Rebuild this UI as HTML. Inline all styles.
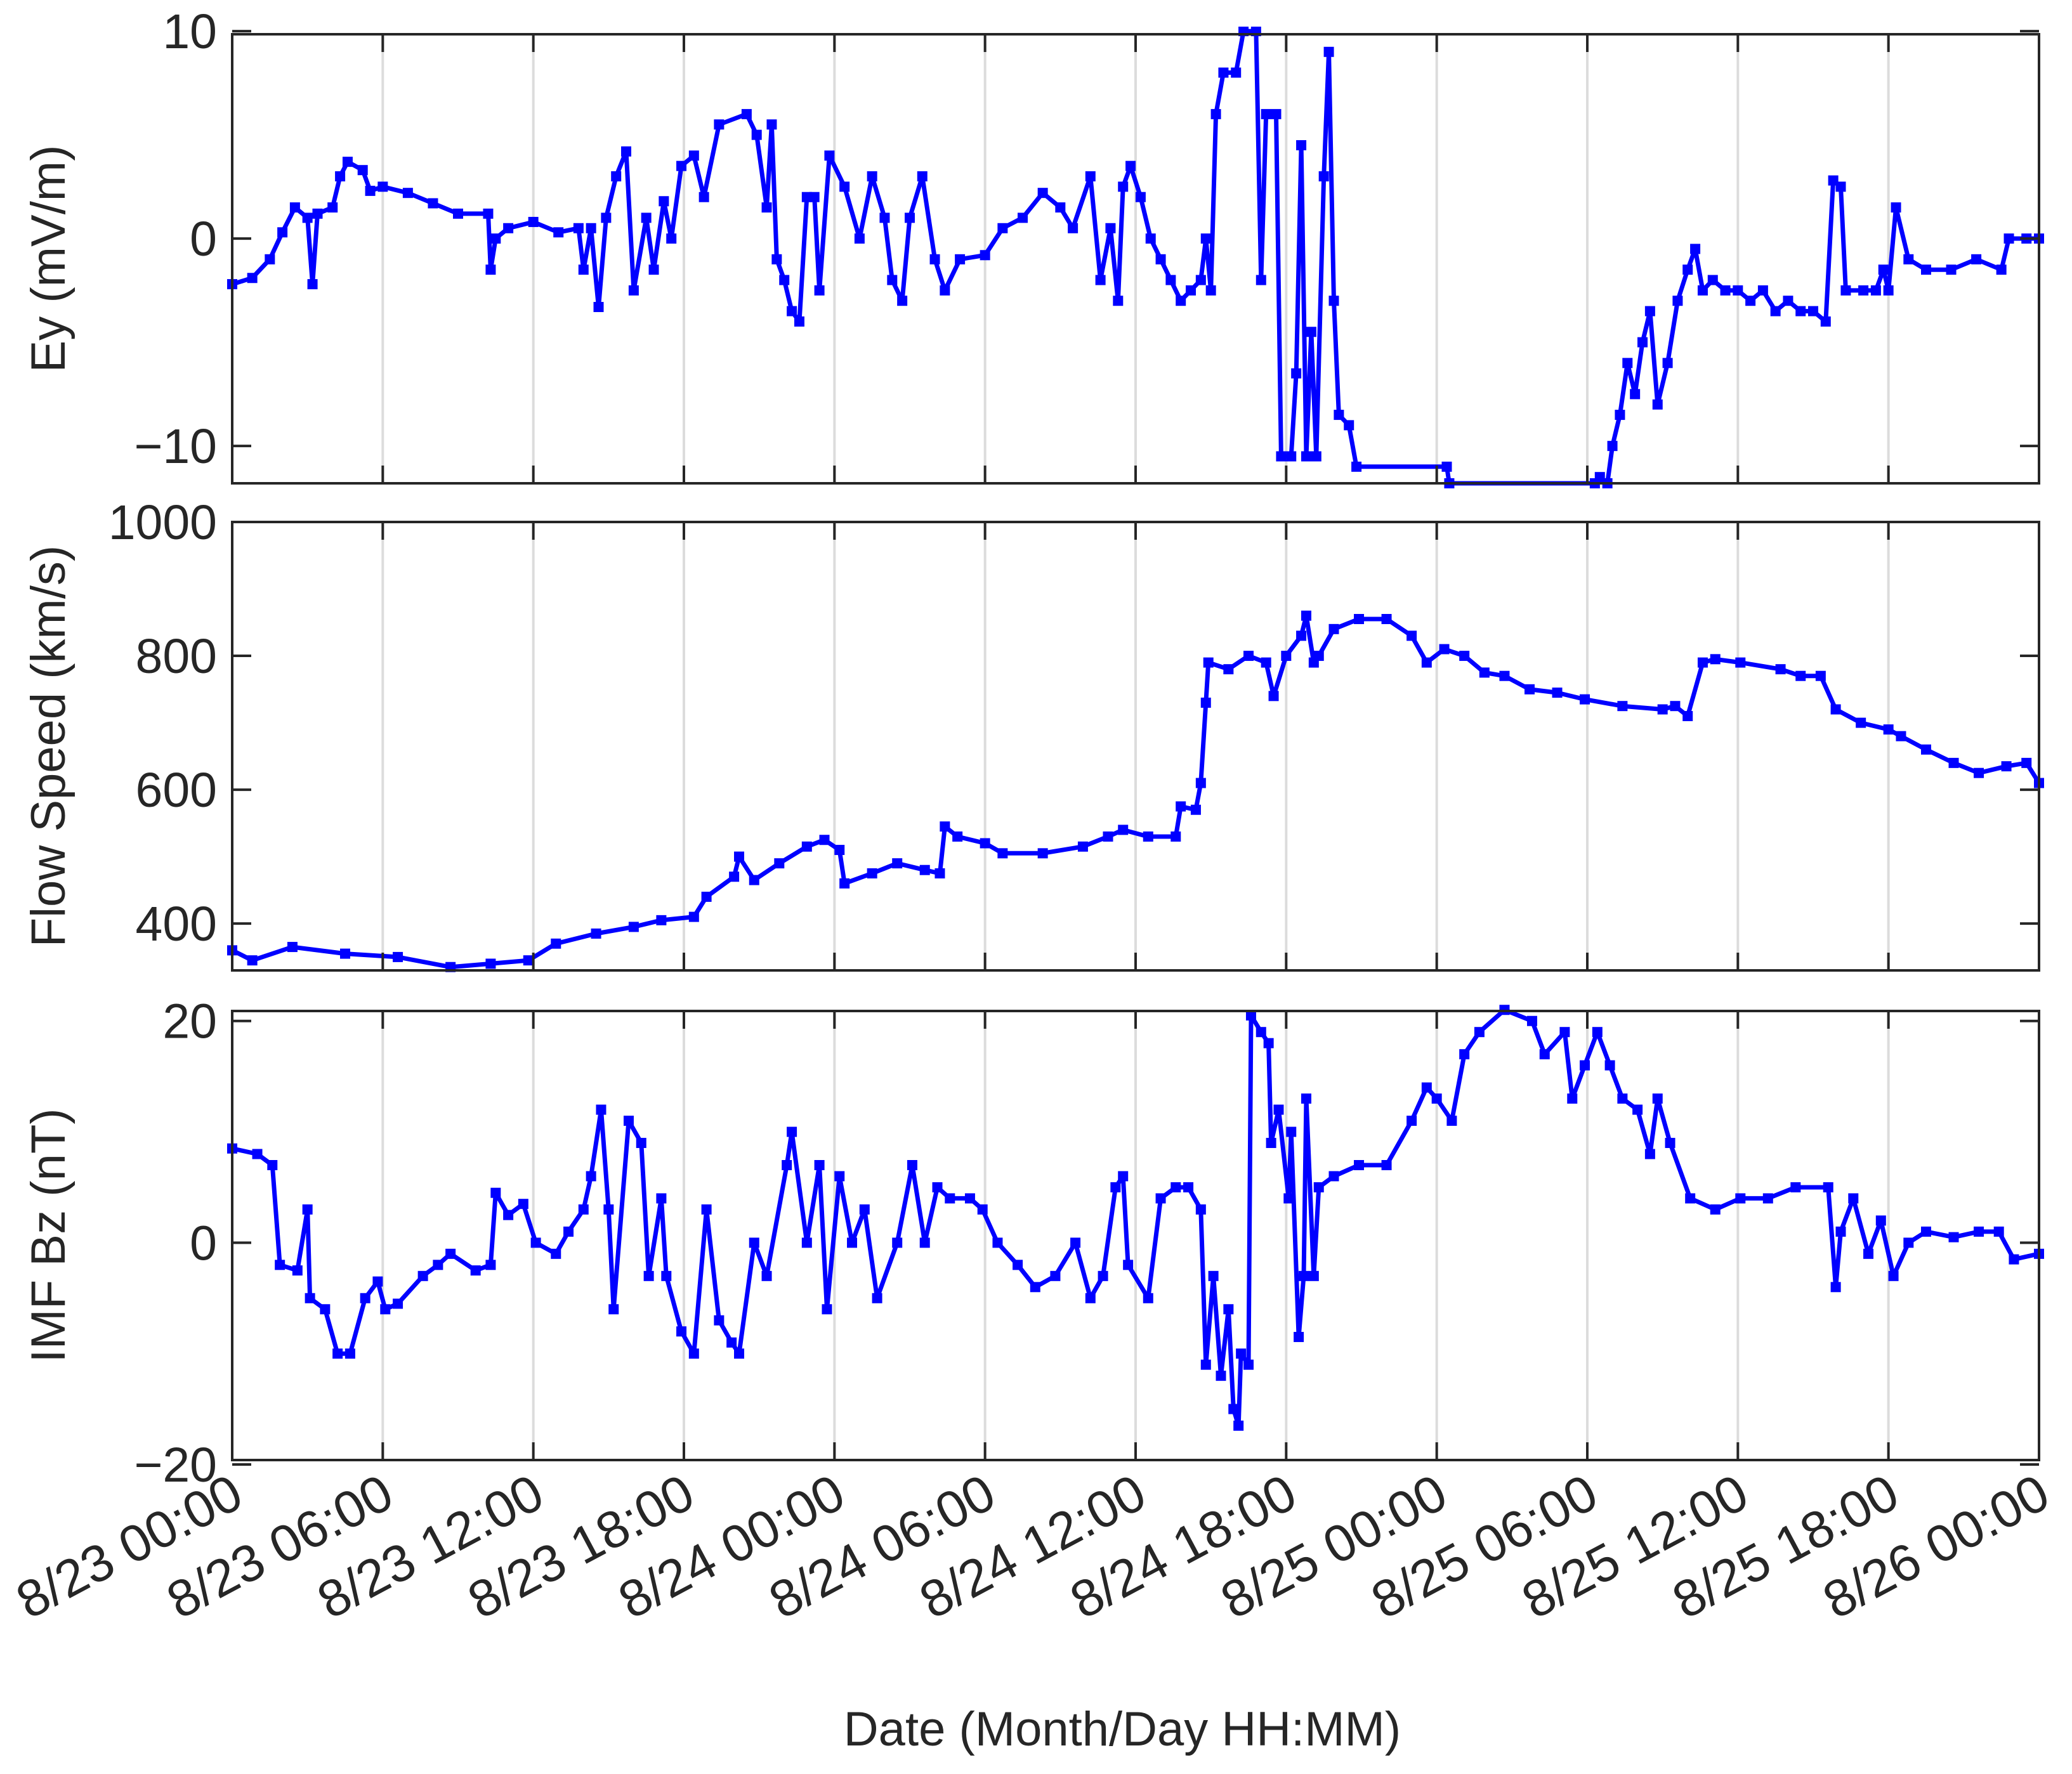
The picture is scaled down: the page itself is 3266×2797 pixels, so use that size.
<!DOCTYPE html>
<html><head><meta charset="utf-8"><style>
html,body{margin:0;padding:0;background:#fff;}
svg{display:block;font-family:"Liberation Sans",sans-serif;}
</style></head><body>
<svg id="chart" width="3266" height="2797" viewBox="0 0 3266 2797" xmlns="http://www.w3.org/2000/svg"></svg>
<script>
// Time axis: hours since 8/23 00:00
const xTickHours = [0,6,12,18,24,30,36,42,48,54,60,66,72];
const xTickLabels = ["8/23 00:00","8/23 06:00","8/23 12:00","8/23 18:00","8/24 00:00","8/24 06:00","8/24 12:00","8/24 18:00","8/25 00:00","8/25 06:00","8/25 12:00","8/25 18:00","8/26 00:00"];

// Ey (mV/m)
const eyT = [0,0.8,1.5,2,2.5,3,3.2,3.4,4,4.3,4.6,5.2,5.5,6,7,8,9,10.2,10.3,10.5,11,12,13,13.8,14,14.3,14.6,14.9,15.3,15.7,16,16.5,16.8,17.2,17.5,17.9,18.4,18.8,19.4,20.5,20.9,21.3,21.5,21.7,22,22.3,22.6,22.9,23.2,23.4,23.8,24.4,25,25.5,26,26.3,26.7,27,27.5,28,28.4,29,30,30.7,31.5,32.3,33,33.5,34.2,34.6,35,35.3,35.5,35.8,36.2,36.6,37,37.4,37.8,38.2,38.6,38.8,39,39.2,39.5,40,40.3,40.8,41,41.2,41.6,41.8,42.2,42.4,42.6,42.8,43,43.2,43.5,43.7,43.9,44.1,44.5,44.8,48.4,48.5,54.3,54.5,54.8,55,55.3,55.6,55.9,56.2,56.5,56.8,57.2,57.6,58,58.3,58.6,59,59.5,60,60.5,61,61.5,62,62.5,63,63.5,63.8,64.1,64.3,65,65.5,65.8,66,66.3,66.8,67.5,68.5,69.5,70.5,70.8,71.5,72];
const eyV = [-2.2,-1.9,-1,0.3,1.5,1,-2.2,1.2,1.5,3,3.7,3.3,2.3,2.5,2.2,1.7,1.2,1.2,-1.5,0,0.5,0.8,0.3,0.5,-1.5,0.5,-3.3,1,3,4.2,-2.5,1,-1.5,1.8,0,3.5,4,2,5.5,6,5,1.5,5.5,-1,-2,-3.5,-4,2,2,-2.5,4,2.5,0,3,1,-2,-3,1,3,-1,-2.5,-1,-0.8,0.5,1,2.2,1.5,0.5,3,-2,0.5,-3,2.5,3.5,2,0,-1,-2,-3,-2.5,-2,0,-2.5,6,8,8,10,10,-2,6,6,-10.5,-10.5,-6.5,4.5,-10.5,-4.5,-10.5,3,9,-3,-8.5,-9,-11,-11,-11.8,-11.8,-11.5,-11.8,-10,-8.5,-6,-7.5,-5,-3.5,-8,-6,-3,-1.5,-0.5,-2.5,-2,-2.5,-2.5,-3,-2.5,-3.5,-3,-3.5,-3.5,-4,2.8,2.5,-2.5,-2.5,-2.5,-1.5,-2.5,1.5,-1,-1.5,-1.5,-1,-1.5,0,0,0];

// Flow speed (km/s)
const vT = [0,0.8,2.4,4.5,6.6,8.7,10.3,11.8,12.9,14.5,16,17.1,18.4,18.9,20,20.2,20.8,21.8,22.9,23.6,24.2,24.4,25.5,26.5,27.6,28.2,28.4,28.9,30,30.7,32.3,33.9,34.9,35.5,36.5,37.6,37.8,38.4,38.6,38.8,38.9,39.7,40.5,41.2,41.5,42,42.6,42.8,43.1,43.3,43.9,44.9,46,47,47.6,48.3,49.1,49.9,50.7,51.7,52.8,53.9,55.4,57,57.5,58,58.6,59.1,60.1,61.7,62.5,63.3,63.9,64.9,66,66.5,67.5,68.6,69.6,70.7,71.5,72];
const vV = [360,345,365,355,350,335,340,345,370,385,395,405,410,440,470,500,465,490,515,525,510,460,475,490,480,475,545,530,520,505,505,515,530,540,530,530,575,570,610,730,790,780,800,790,740,800,830,860,790,800,840,855,855,830,790,810,800,775,770,750,745,735,725,720,725,710,790,795,790,780,770,770,720,700,690,680,660,640,625,635,640,610];

// IMF Bz (nT)
const bzT = [0,1,1.6,1.9,2.6,3,3.1,3.7,4.2,4.7,5.3,5.8,6.1,6.6,7.6,8.2,8.7,9.7,10.3,10.5,11,11.6,12.1,12.9,13.4,14,14.3,14.7,15,15.2,15.8,16.3,16.6,17.1,17.3,17.9,18.4,18.9,19.4,19.9,20.2,20.8,21.3,22.1,22.3,22.9,23.4,23.7,24.2,24.7,25.2,25.7,26.5,27.1,27.6,28.1,28.6,29.4,29.9,30.5,31.3,32,32.8,33.6,34.2,34.7,35.2,35.5,35.7,36.5,37,37.6,38.1,38.6,38.8,39.1,39.4,39.7,39.9,40.1,40.2,40.5,40.6,41,41.3,41.4,41.7,42.1,42.2,42.5,42.7,42.8,43.1,43.3,43.9,44.9,46,47,47.6,48,48.6,49.1,49.7,50.7,51.8,52.3,53.1,53.4,53.9,54.4,54.9,55.4,56,56.5,56.8,57.3,58.1,59.1,60.1,61.2,62.3,63.6,63.9,64.1,64.6,65.2,65.7,66.2,66.8,67.5,68.6,69.6,70.4,71,72];
const bzV = [8.5,8,7,-2,-2.5,3,-5,-6,-10,-10,-5,-3.5,-6,-5.5,-3,-2,-1,-2.5,-2,4.5,2.5,3.5,0,-1,1,3,6,12,3,-6,11,9,-3,4,-3,-8,-10,3,-7,-9,-10,0,-3,7,10,0,7,-6,6,0,3,-5,0,7,0,5,4,4,3,0,-2,-4,-3,0,-5,-3,5,6,-2,-5,4,5,5,3,-11,-3,-12,-6,-15,-16.5,-10,-11,20.5,19,18,9,12,4,10,-8.5,-3,13,-3,5,6,7,7,11,14,13,11,17,19,21,20,17,19,13,16,19,16,13,12,8,13,9,4,3,4,4,5,5,-4,1,4,-1,2,-3,0,1,0.5,1,1,-1.5,-1];

const eyTicks = [-10,0,10];
const vTicks = [400,600,800,1000];
const bzTicks = [-20,0,20];

const NS = "http://www.w3.org/2000/svg";
const svg = document.getElementById('chart');
const X0 = 366, X1 = 3214;
const AX = "#262626";
function xs(h){ return X0 + (h/72)*(X1-X0); }
function mk(tag, attrs, parent){
  const e = document.createElementNS(NS, tag);
  for (const k in attrs) e.setAttribute(k, attrs[k]);
  (parent||svg).appendChild(e);
  return e;
}

const panels = [
  {name:"ey", top:54, bot:762, ymin:-11.8, ymax:9.85, ticks:eyTicks, t:eyT, v:eyV, label:"Ey (mV/m)"},
  {name:"flow-speed", top:823, bot:1530, ymin:330, ymax:1000, ticks:vTicks, t:vT, v:vV, label:"Flow Speed (km/s)"},
  {name:"imf-bz", top:1594, bot:2302, ymin:-19.6, ymax:20.9, ticks:bzTicks, t:bzT, v:bzV, label:"IMF Bz (nT)"}
];

panels.forEach((p, pi) => {
  const ys = v => p.bot - (v - p.ymin)/(p.ymax - p.ymin)*(p.bot - p.top);
  const g = mk('g', {});
  
  
  xTickHours.forEach(h => {
    const l = mk('line', {x1:xs(h), x2:xs(h), y1:p.top, y2:p.bot, stroke:"#dcdcdc", "stroke-width":4}, g);
    
    
  });
  let d = "";
  for (let i=0;i<p.t.length;i++) d += (i?"L":"M") + xs(p.t[i]).toFixed(1) + "," + ys(p.v[i]).toFixed(1);
  const clipId = "clip"+pi;
  const cp = mk('clipPath', {id:clipId}, g);
  mk('rect', {x:X0-12, y:p.top-12, width:X1-X0+24, height:p.bot-p.top+24}, cp);
  const dg = mk('g', {"clip-path":"url(#"+clipId+")"}, g);
  const path = mk('path', {d:d, fill:"none", stroke:"#0000ff", "stroke-width":7, "stroke-linejoin":"round"}, dg);
  
  
  for (let i=0;i<p.t.length;i++){
    const c = mk('rect', {x:xs(p.t[i])-8, y:ys(p.v[i])-8, width:16, height:16, fill:"#0000ff"}, dg);
    
    
  }
  const box = mk('rect', {x:X0, y:p.top, width:X1-X0, height:p.bot-p.top, fill:"none", stroke:AX, "stroke-width":4}, g);
  
  
  xTickHours.forEach(h => {
    mk('line', {x1:xs(h), x2:xs(h), y1:p.bot, y2:p.bot-28, stroke:AX, "stroke-width":4}, g);
    mk('line', {x1:xs(h), x2:xs(h), y1:p.top, y2:p.top+28, stroke:AX, "stroke-width":4}, g);
  });
  p.ticks.forEach(v => {
    const y = ys(v);
    mk('line', {x1:X0, x2:X0+30, y1:y, y2:y, stroke:AX, "stroke-width":4}, g);
    mk('line', {x1:X1, x2:X1-30, y1:y, y2:y, stroke:AX, "stroke-width":4}, g);
    const t = mk('text', {x:342, y:y+27, "text-anchor":"end", "font-size":77, fill:AX}, g);
    t.textContent = v < 0 ? "\u2212" + Math.abs(v) : String(v);
    
    
  });
  const cy = (p.top + p.bot)/2;
  const yl = mk('text', {x:0, y:0, transform:"translate(102,"+cy+") rotate(-90)", "text-anchor":"middle", "font-size":76, fill:AX}, g);
  yl.textContent = p.label;
  
  
});

xTickHours.forEach((h, i) => {
  const x = xs(h) + 22, y = 2302 + 70;
  const t = mk('text', {x:0, y:0, transform:"translate("+x+","+y+") rotate(-28)", "text-anchor":"end", "font-size":82, fill:AX});
  t.textContent = xTickLabels[i];
  
  
});
const xl = mk('text', {x:1769, y:2752, "text-anchor":"middle", "font-size":76, fill:AX});
xl.textContent = "Date (Month/Day HH:MM)";


</script>
</body></html>
